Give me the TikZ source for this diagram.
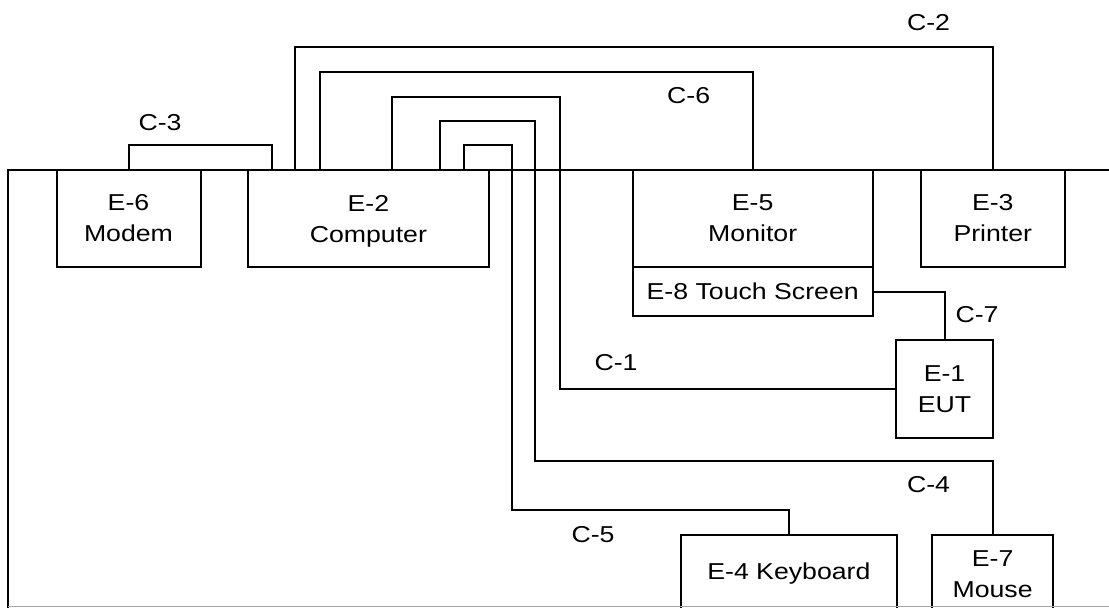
\documentclass[tikz,border=0pt]{standalone}
\usepackage{fontspec}
\setmainfont[FakeStretch=1.16]{Liberation Sans}
\begin{document}
\begin{tikzpicture}[x=1pt,y=-1pt,
  box/.style={draw, line width=2pt, inner sep=0pt, align=center, fill=white,
              font=\fontsize{23}{31}\selectfont},
  lbl/.style={inner sep=0pt, font=\fontsize{23}{28}\selectfont},
  wire/.style={draw, line width=2pt}]
\clip (0,0) rectangle (1109,608);
\fill[white] (0,0) rectangle (1109,608);
% table outline
\draw[line width=2pt] (1112,170) -- (8,170) -- (8,612);
% equipment
\node[box, minimum width=144pt, minimum height=97pt] (modem) at (128.5,218.5) {E-6\\Modem};
\node[box, minimum width=240.4pt, minimum height=97pt] (computer) at (368.4,218.5) {E-2\\\smash{Computer}};
\node[box, minimum width=240.3pt, minimum height=97pt] (monitor) at (752.7,218.5) {E-5\\Monitor};
\node[box, minimum width=240.3pt, minimum height=49pt] (touch) at (752.7,291.5) {E-8 Touch Screen};
\node[box, minimum width=144pt, minimum height=97pt] (printer) at (992.8,218.5) {E-3\\Printer};
\node[box, minimum width=96.3pt, minimum height=98pt] (eut) at (944.5,389) {E-1\\EUT};
\node[box, minimum width=216.5pt, minimum height=78pt] (keyboard) at (788.9,574) {E-4 Keyboard};
\node[box, minimum width=120.4pt, minimum height=78pt] (mouse) at (992.6,574) {E-7\\Mouse};
\draw[gray!70, line width=1pt] (8,606.5) -- (1112,606.5);
% cables
\draw[wire] ([xshift=24.7pt]computer.north west) -- ++(0,-24) -| (modem.north);
\draw[wire] ([xshift=48.2pt]computer.north west) -- ++(0,-122) -| (printer.north);
\draw[wire] ([xshift=72.5pt]computer.north west) -- ++(0,-97) -| (monitor.north);
\draw[wire] ([xshift=144.7pt]computer.north west) -- ++(0,-72) -- ++(167.6,0) |- (eut.west);
\draw[wire] ([xshift=192.8pt]computer.north west) -- ++(0,-48) -- ++(95.4,0) -- ++(0,339.7) -| (mouse.north);
\draw[wire] ([xshift=216.8pt]computer.north west) -- ++(0,-24) -- ++(47.5,0) -- ++(0,364.7) -| (keyboard.north);
\draw[wire] (touch.east) -| (eut.north);
% cable labels
\node[lbl] (l3) at (160,123) {C-3};
\node[lbl] (l2) at (928.5,22.5) {C-2};
\node[lbl] (l6) at (688.6,96) {C-6};
\node[lbl] (l1) at (616,363) {C-1};
\node[lbl] (l7) at (977,314.5) {C-7};
\node[lbl] (l4) at (928.5,485) {C-4};
\node[lbl] (l5) at (593,535) {C-5};
\end{tikzpicture}
\end{document}
